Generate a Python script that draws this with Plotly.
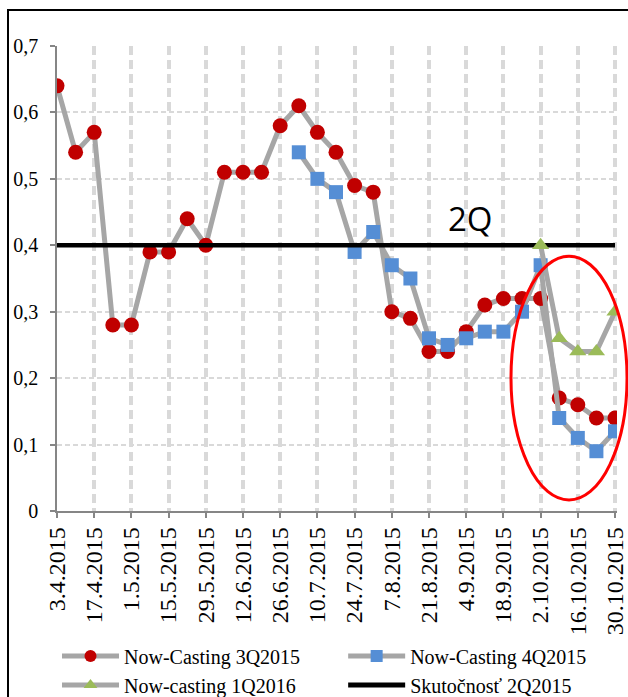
import plotly.graph_objects as go

# Weekly now-casting dates (Fridays)
dates = [
    "2015-04-03", "2015-04-10", "2015-04-17", "2015-04-24", "2015-05-01",
    "2015-05-08", "2015-05-15", "2015-05-22", "2015-05-29", "2015-06-05",
    "2015-06-12", "2015-06-19", "2015-06-26", "2015-07-03", "2015-07-10",
    "2015-07-17", "2015-07-24", "2015-07-31", "2015-08-07", "2015-08-14",
    "2015-08-21", "2015-08-28", "2015-09-04", "2015-09-11", "2015-09-18",
    "2015-09-25", "2015-10-02", "2015-10-09", "2015-10-16", "2015-10-23",
    "2015-10-30",
]

now_3q2015 = [
    0.64, 0.54, 0.57, 0.28, 0.28, 0.39, 0.39, 0.44, 0.40, 0.51,
    0.51, 0.51, 0.58, 0.61, 0.57, 0.54, 0.49, 0.48, 0.30, 0.29,
    0.24, 0.24, 0.27, 0.31, 0.32, 0.32, 0.32, 0.17, 0.16, 0.14,
    0.14,
]

now_4q2015 = [
    None, None, None, None, None, None, None, None, None, None,
    None, None, None, 0.54, 0.50, 0.48, 0.39, 0.42, 0.37, 0.35,
    0.26, 0.25, 0.26, 0.27, 0.27, 0.30, 0.37, 0.14, 0.11, 0.09,
    0.12,
]

now_1q2016 = [
    None, None, None, None, None, None, None, None, None, None,
    None, None, None, None, None, None, None, None, None, None,
    None, None, None, None, None, None, 0.40, 0.26, 0.24, 0.24,
    0.30,
]

actual_2q2015 = [
    0.40, 0.40, 0.40, 0.40, 0.40, 0.40, 0.40, 0.40, 0.40, 0.40,
    0.40, 0.40, 0.40, 0.40, 0.40, 0.40, 0.40, 0.40, 0.40, 0.40,
    0.40, 0.40, 0.40, 0.40, 0.40, 0.40, 0.40, 0.40, 0.40, 0.40,
    0.40,
]

LINE_GREY = "#A6A6A6"
AXIS_GREY = "#868686"
GRID_GREY = "#D9D9D9"
SERIF = "Liberation Serif"

fig = go.Figure()

fig.add_trace(go.Scatter(
    x=dates, y=now_3q2015, name="Now-Casting 3Q2015", mode="lines+markers",
    line=dict(color=LINE_GREY, width=5),
    marker=dict(symbol="circle", size=15, color="#C00000"),
    legend="legend", legendrank=1,
))
fig.add_trace(go.Scatter(
    x=dates, y=now_4q2015, name="Now-Casting 4Q2015", mode="lines+markers",
    line=dict(color=LINE_GREY, width=5),
    marker=dict(symbol="square", size=14, color="#558ED5"),
    legend="legend2", legendrank=1,
))
fig.add_trace(go.Scatter(
    x=dates, y=actual_2q2015, name="Skutočnosť 2Q2015", mode="lines",
    line=dict(color="#000000", width=4.5),
    legend="legend2", legendrank=2,
))
fig.add_trace(go.Scatter(
    x=dates, y=now_1q2016, name="Now-casting 1Q2016", mode="lines+markers",
    line=dict(color=LINE_GREY, width=5),
    marker=dict(symbol="triangle-up", size=15, color="#9BBB59"),
    legend="legend", legendrank=2,
))

legend_style = dict(
    orientation="v", xanchor="left", yanchor="top",
    font=dict(family=SERIF, size=20, color="#000000"),
    itemwidth=57, itemsizing="constant",
    bgcolor="rgba(0,0,0,0)", tracegroupgap=0,
    traceorder="normal",
)

fig.update_layout(
    width=628, height=697,
    margin=dict(l=57, r=11, t=46, b=186, autoexpand=False),
    paper_bgcolor="white", plot_bgcolor="white",
    separators=", ",
    font=dict(family=SERIF, color="#000000"),
    xaxis=dict(
        type="date",
        range=["2015-04-03", "2015-10-30 18:00"],
        tick0="2015-04-03", dtick=14 * 86400000,
        tickformat="%-d.%-m.%Y", tickangle=-90,
        tickfont=dict(family=SERIF, size=24, color="#000000"),
        showline=True, linecolor=AXIS_GREY, linewidth=1.5,
        ticks="outside", ticklen=5, tickcolor=AXIS_GREY, tickwidth=1.5,
        showgrid=True, gridcolor=GRID_GREY, gridwidth=3.5, griddash="9px,5px",
        zeroline=False, automargin=False,
    ),
    yaxis=dict(
        range=[0, 0.7], dtick=0.1, tick0=0,
        tickfont=dict(family=SERIF, size=20, color="#000000"),
        showline=True, linecolor=AXIS_GREY, linewidth=1.5,
        ticks="outside", ticklen=5, tickcolor=AXIS_GREY, tickwidth=1.5,
        ticklabelstandoff=8,
        showgrid=True, gridcolor=GRID_GREY, gridwidth=1.5, griddash="5px,3px",
        zeroline=False, automargin=False,
    ),
    legend=dict(legend_style, x=0.0, y=-0.27),
    legend2=dict(legend_style, x=0.511, y=-0.27),
    annotations=[dict(
        text="2Q", xref="paper", yref="paper", x=0.7375, y=0.63,
        xanchor="center", yanchor="middle",
        showarrow=False, font=dict(family="Open Sans", size=33, color="#000000"),
    )],
    shapes=[
        # highlight of the October revisions
        dict(type="circle", xref="paper", yref="paper",
             x0=0.8107, x1=1.0179, y0=0.0237, y1=0.548,
             line=dict(color="#FF0000", width=3), layer="above"),
        # chart frame
        dict(type="rect", xref="paper", yref="paper",
             x0=-0.0875, x1=1.3, y0=-0.6, y1=1.0774,
             line=dict(color="#000000", width=2)),
    ],
)

fig.write_html("out.html")
